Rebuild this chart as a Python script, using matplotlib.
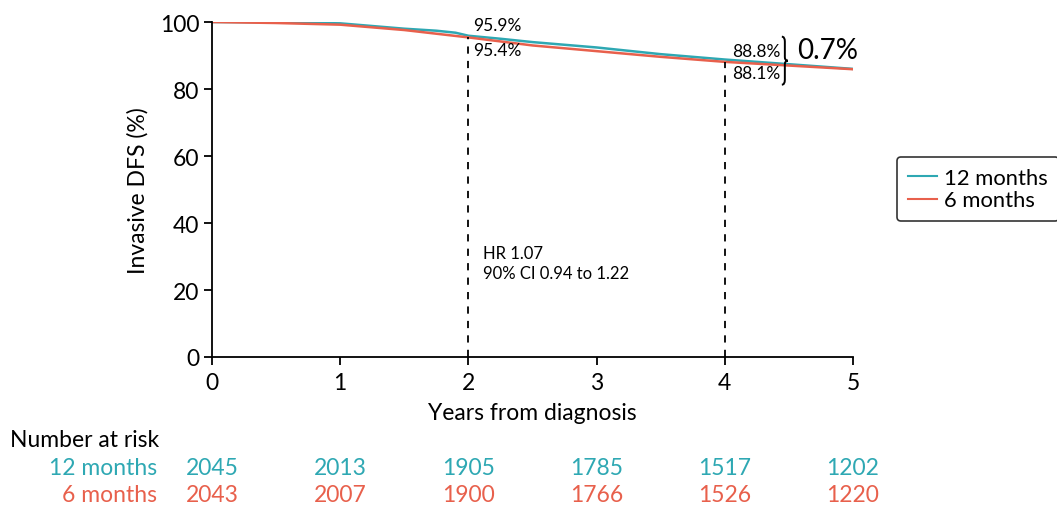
import matplotlib
matplotlib.use("Agg")
import matplotlib.pyplot as plt
from matplotlib.lines import Line2D
from matplotlib.path import Path
from matplotlib.patches import PathPatch
from matplotlib.transforms import Affine2D

plt.rcParams['font.family'] = ['Lato', 'DejaVu Sans']

# Data
years_12 = [0, 0.5, 1.0, 1.25, 1.5, 1.75, 1.9, 2.0, 2.25, 2.5, 3.0, 3.5, 4.0, 4.5, 5.0]
dfs_12 = [100, 99.9, 99.6, 98.8, 98.0, 97.4, 96.8, 95.9, 95.0, 94.0, 92.4, 90.4, 88.8, 87.4, 86.0]
years_6 = [0, 0.5, 1.0, 1.5, 2.0, 2.5, 3.0, 3.5, 4.0, 4.5, 5.0]
dfs_6 = [100, 99.7, 99.2, 97.6, 95.4, 93.0, 91.3, 89.6, 88.1, 87.0, 85.9]
risk_times = [0, 1, 2, 3, 4, 5]
risk_12 = [2045, 2013, 1905, 1785, 1517, 1202]
risk_6 = [2043, 2007, 1900, 1766, 1526, 1220]
marks = [2, 4]
marks_12 = [95.9, 88.8]
marks_6 = [95.4, 88.1]
labels = ["12 months", "6 months"]

c12 = "#2EA8B3"
c6 = "#E8604C"

FS = 16.5

fig = plt.figure(figsize=(10.57, 5.06), dpi=100)
ax = fig.add_axes([212/1057, 1-358/506, (853-212)/1057, (358-23)/506])

ax.plot(years_12, dfs_12, color=c12, lw=1.8, label=labels[0])
ax.plot(years_6, dfs_6, color=c6, lw=1.8, label=labels[1])

for t, v in zip(marks, marks_6):
    ax.plot([t, t], [0, v], color="black", ls=(0, (4, 4)), lw=1.3)

ax.set_xlim(0, 5)
ax.set_ylim(0, 100)
ax.set_xticks(range(6))
ax.set_yticks(range(0, 101, 20))
for s in ["top", "right"]:
    ax.spines[s].set_visible(False)
for s in ["left", "bottom"]:
    ax.spines[s].set_linewidth(1.3)
ax.tick_params(axis="both", labelsize=FS, length=6, width=1.3)
ax.tick_params(axis="x", pad=5)
ax.tick_params(axis="y", pad=3)
ax.set_xlabel("Years from diagnosis", fontsize=FS, labelpad=6)
ax.set_ylabel("Invasive DFS (%)", fontsize=FS, labelpad=8)

# annotations at year 2
ax.text(marks[0] + 0.04, marks_12[0] + 0.9, f"{marks_12[0]}%", fontsize=12.5, ha="left", va="bottom")
ax.text(marks[0] + 0.04, marks_6[0] - 1.5, f"{marks_6[0]}%", fontsize=12.5, ha="left", va="top")
# annotations at year 4
ax.text(marks[1] + 0.06, marks_12[1] + 0.3, f"{marks_12[1]}%", fontsize=12.5, ha="left", va="bottom")
ax.text(marks[1] + 0.06, marks_6[1] - 0.9, f"{marks_6[1]}%", fontsize=12.5, ha="left", va="top")

# curly brace drawn as a path (sizes in pixels, centred between the two values)
ymid = (marks_12[1] + marks_6[1]) / 2
h, w = 24.0, 6.0
verts = [(0, h), (w / 2, h), (w / 2, h * 0.8), (w / 2, h * 0.15), (w / 2, 0), (w, 0),
         (w / 2, 0), (w / 2, -h * 0.15), (w / 2, -h * 0.8), (w / 2, -h), (0, -h)]
codes = [Path.MOVETO, Path.CURVE3, Path.CURVE3, Path.LINETO, Path.CURVE3, Path.CURVE3,
         Path.CURVE3, Path.CURVE3, Path.LINETO, Path.CURVE3, Path.CURVE3]
disp_x, disp_y = ax.transData.transform((4.445, ymid))
path_tr = Affine2D().translate(disp_x, disp_y)
brace = PathPatch(Path(verts, codes), transform=path_tr, facecolor="none",
                  edgecolor="black", lw=1.4, clip_on=False)
fig.add_artist(brace)

ax.text(4.565, ymid + 3.3, f"{marks_12[1]-marks_6[1]:.1f}%", fontsize=20, ha="left", va="center")

ax.text(2.11, 28.0, "HR 1.07\n90% CI 0.94 to 1.22", fontsize=12, ha="left", va="center", linespacing=1.35)

handles = [Line2D([], [], color=c12, lw=1.5), Line2D([], [], color=c6, lw=1.5)]
leg = fig.legend(handles, labels, loc="center left", bbox_to_anchor=(897/1057, 1-190/506),
                 fontsize=15.8, frameon=True, fancybox=True, handlelength=1.3,
                 handletextpad=0.35, borderpad=0.5, labelspacing=0.12, borderaxespad=0)
leg.get_frame().set_edgecolor("black")
leg.get_frame().set_linewidth(1.2)

# Number at risk table
fig.text(10/1057, 1-441/506, "Number at risk", fontsize=FS, ha="left", va="center")
for lab, vals, col, ypx in [(labels[0], risk_12, c12, 469), (labels[1], risk_6, c6, 496)]:
    yf = 1 - ypx/506
    fig.text(157/1057, yf, lab, fontsize=FS, color=col, ha="right", va="center")
    for t, n in zip(risk_times, vals):
        xf = fig.transFigure.inverted().transform(ax.transData.transform((t, 0)))[0]
        fig.text(xf, yf, str(n), fontsize=FS, color=col, ha="center", va="center")

fig.savefig("out.png", dpi=100)
